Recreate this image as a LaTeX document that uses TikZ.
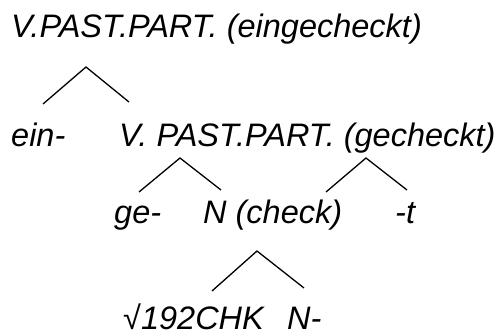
\documentclass[tikz,border=0pt]{standalone}
\usepackage{fontspec}
\setmainfont{Liberation Sans}
\begin{document}
\begin{tikzpicture}[x=1pt,y=-1pt,
  lbl/.style={anchor=base west,inner sep=0pt,font=\fontsize{32.5}{36}\selectfont\itshape},
  br/.style={line width=1.3pt}]
\useasboundingbox (0,0) rectangle (504,333);
\node[lbl] (top) at (11,37) {V.PAST.PART. (eingecheckt)};
\node[lbl] (ein) at (11,146) {ein-};
\node[lbl] (vpp) at (119,146) {V. PAST.PART. (gecheckt)};
\node[lbl] (ge) at (114,223) {ge-};
\node[lbl] (n) at (203,223) {N (check)};
\node[lbl] (t) at (395,223) {-t};
\node[lbl] (root) at (123,329) {√192CHK};
\node[lbl] (nm) at (287,329) {N-};
\coordinate (a1) at (86,67);
\coordinate (l1) at (43,104);
\coordinate (r1) at (129,102);
\coordinate (a2) at (180,158);
\coordinate (l2) at (139,192);
\coordinate (r2) at (221,190);
\coordinate (a3) at (366,158);
\coordinate (l3) at (326,192);
\coordinate (r3) at (407,190);
\coordinate (a4) at (257,251);
\coordinate (l4) at (212,291);
\coordinate (r4) at (304,288);
\draw[br] (l1) -- (a1) -- (r1);
\draw[br] (l2) -- (a2) -- (r2);
\draw[br] (l3) -- (a3) -- (r3);
\draw[br] (l4) -- (a4) -- (r4);
\end{tikzpicture}
\end{document}
